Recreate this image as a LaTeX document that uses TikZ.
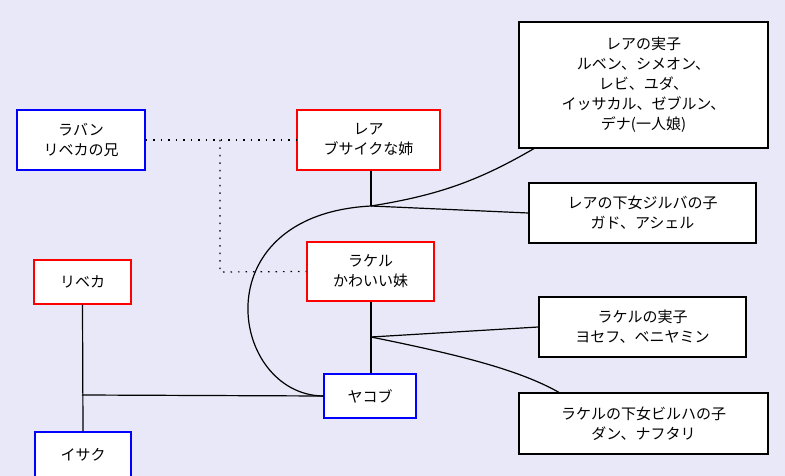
\documentclass[tikz,border=0pt]{standalone}
\usepackage{fontspec}
\setmainfont{Noto Sans CJK JP}
\begin{document}
\begin{tikzpicture}[x=1pt,y=-1pt,
 bx/.style={draw,line width=1.4pt,fill=white,align=center,font=\fontsize{15}{20}\selectfont,inner sep=0pt},
 bl/.style={bx,draw=blue},rd/.style={bx,draw=red},bk/.style={bx,draw=black},
 ln/.style={line width=1.2pt}]
\fill[fill={rgb,255:red,232;green,232;blue,248}] (0,0) rectangle (785,476);
\useasboundingbox (0,0) rectangle (785,476);
\node[bl,minimum width=128,minimum height=60] (laban) at (81,140) {ラバン\\リベカの兄};
\node[rd,minimum width=143,minimum height=60] (leah) at (368.5,140) {レア\\ブサイクな姉};
\node[bk,minimum width=249,minimum height=126] (leahk) at (643.5,85) {レアの実子\\ルベン、シメオン、\\レビ、ユダ、\\イッサカル、ゼブルン、\\デナ(一人娘)};
\node[bk,minimum width=227,minimum height=60] (zil) at (642.5,213) {レアの下女ジルバの子\\ガド、アシェル};
\node[rd,minimum width=127,minimum height=59] (rachel) at (370.5,271.5) {ラケル\\かわいい妹};
\node[rd,minimum width=97,minimum height=44] (rebekah) at (82.5,282) {リベカ};
\node[bk,minimum width=207,minimum height=60] (rachk) at (642.5,327) {ラケルの実子\\ヨセフ、ベニヤミン};
\node[bl,minimum width=92,minimum height=44] (jacob) at (370,396) {ヤコブ};
\node[bk,minimum width=249,minimum height=61] (bil) at (643.5,423.5) {ラケルの下女ビルハの子\\ダン、ナフタリ};
\node[bl,minimum width=96,minimum height=46] (isaac) at (83,455) {イサク};
\coordinate (jl) at (371,206);
\coordinate (jr) at (371,337);
\coordinate (jd) at (220,140);
\coordinate (ji) at (82,395);
\draw[ln,dash pattern=on 1.5pt off 6pt] (laban.east) -- (leah.west);
\draw[ln,dash pattern=on 1.5pt off 6pt] (jd) -- (220,272) -- (rachel.west);
\draw[ln] (leah.south -| jl) -- (jl);
\draw[ln] (jl) .. controls (440,195) and (480,180) .. (535,148);
\draw[ln] (jl) -- (zil.west);
\draw[ln] (jl) .. controls (200,215) and (230,395) .. (jacob.west);
\draw[ln] (rachel.south -| jr) -- (jacob.north -| jr);
\draw[ln] (jr) -- (rachk.west);
\draw[ln] (jr) .. controls (460,355) and (520,370) .. (560,393);
\draw[ln] (rebekah.south) -- (isaac.north);
\draw[ln] (ji) -- (jacob.west);
\end{tikzpicture}
\end{document}
